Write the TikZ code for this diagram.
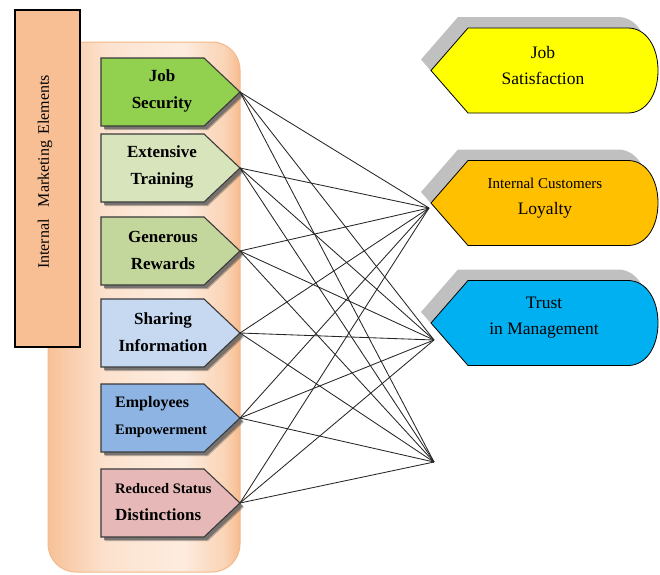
\documentclass[tikz,border=0pt]{standalone}
\usepackage{fontspec}
\setmainfont{Liberation Serif}

% palette
\definecolor{panelA}{HTML}{F7C198}
\definecolor{panelB}{HTML}{FCE2CE}
\definecolor{panelC}{HTML}{FDECDF}
\definecolor{panelD}{HTML}{FAD4B6}
\definecolor{panelE}{HTML}{F6BC8F}
\definecolor{panelEdge}{HTML}{F5B889}
\definecolor{headFill}{HTML}{F9BF94}
\definecolor{cJobSec}{HTML}{92D050}
\definecolor{cTrain}{HTML}{D8E4BC}
\definecolor{cReward}{HTML}{C3D69B}
\definecolor{cShare}{HTML}{C6D9F1}
\definecolor{cEmpow}{HTML}{8DB4E2}
\definecolor{cStatus}{HTML}{E6B9B8}
\definecolor{cSatis}{HTML}{FFFF00}
\definecolor{cLoyal}{HTML}{FFC000}
\definecolor{cTrust}{HTML}{00B0F0}
\definecolor{outShadow}{HTML}{C0C0C0}
\definecolor{elBorder}{HTML}{3A3A3A}

% light-centred horizontal gradient of the panel
\pgfdeclarehorizontalshading{panelshade}{100bp}{
  color(0bp)=(panelA); color(25bp)=(panelA); color(40bp)=(panelB);
  color(60bp)=(panelC); color(71bp)=(panelD); color(75bp)=(panelE);
  color(100bp)=(panelE)}

\tikzset{
  % pentagon arrow for an internal marketing element; (-tip) marks its point
  pics/element/.style={code={
    \fill[black, opacity=0.25] (4,4) -- (107,4) -- (143,38) -- (107,72) -- (4,72) -- cycle;
    \fill[black!60, opacity=0.8] (3,3) -- (106,3) -- (142,37) -- (106,71) -- (3,71) -- cycle;
    \draw[elBorder, line width=1.1pt, fill=#1, line join=miter]
      (0,0) -- (103,0) -- (139,34) -- (103,68) -- (0,68) -- cycle;
    \coordinate (-tip) at (139,34);
  }},
  % outcome shape pointing left with a rounded right end
  pics/outcome/.style={code={
    \fill[outShadow] (-123,-11) -- (-86,-53.5) -- (74,-53.5)
      .. controls (92,-53.5) and (104,-35) .. (104,-11)
      .. controls (104,13) and (92,31.5) .. (74,31.5) -- (-86,31.5) -- cycle;
    \draw[black, line width=0.8pt, fill=#1]
      (-113,0) -- (-76,-42.5) -- (84,-42.5)
      .. controls (102,-42.5) and (114,-24) .. (114,0)
      .. controls (114,24) and (102,42.5) .. (84,42.5) -- (-76,42.5) -- cycle;
  }},
  eltext/.style={align=center, font=\bfseries\fontsize{17}{27}\selectfont, inner sep=0pt},
  elleft/.style={align=left, font=\bfseries\fontsize{17}{27}\selectfont, inner sep=0pt},
  outtext/.style={align=center, font=\fontsize{17.5}{26}\selectfont, inner sep=0pt},
  link/.style={black!85, line width=0.85pt},
}

\begin{document}
\begin{tikzpicture}[x=1pt,y=-1pt]
\useasboundingbox (0,0) rectangle (660,574);

% shaded panel behind the elements
\shade[rounded corners=28pt, shading=panelshade] (48,42) rectangle (240,572);
\draw[panelEdge, line width=1pt, rounded corners=28pt] (48,42) rectangle (240,572);

% vertical heading
\node[draw=black, line width=1.2pt, fill=headFill, minimum width=65pt, minimum height=337pt,
      inner sep=0pt] (head) at (47.5,178.5) {};
\node[rotate=90, font=\fontsize{16}{18}\selectfont, inner sep=0pt] (headtext) at (45,172)
  {Internal\hspace{12pt}Marketing\hspace{2pt} Elements};

% internal marketing elements
\pic (e1) at (101,58)  {element=cJobSec};
\pic (e2) at (101,134) {element=cTrain};
\pic (e3) at (101,217) {element=cReward};
\pic (e4) at (101,299) {element=cShare};
\pic (e5) at (101,384) {element=cEmpow};
\pic (e6) at (101,469) {element=cStatus};

\node[eltext] (jobsec) at (162,91) {Job\\Security};
\node[eltext] (train)  at (162,167) {Extensive\\Training};
\node[eltext] (reward) at (163,250) {Generous\\Rewards};
\node[eltext] (share)  at (163,332) {Sharing\\Information};
\node[elleft, anchor=west] (empow) at (115,417)
  {{\fontsize{16}{27}\selectfont Employees}\\{\fontsize{14.5}{27}\selectfont Empowerment}};
\node[elleft, anchor=west] (status) at (115,502)
  {{\fontsize{14.5}{27}\selectfont Reduced Status}\\Distinctions};

% outcomes
\pic (o1) at (544,70.5) {outcome=cSatis};
\pic (o2) at (544,203)  {outcome=cLoyal};
\pic (o3) at (544,323)  {outcome=cTrust};

\node[outtext] (satis) at (543,66) {Job\\Satisfaction};
\node[outtext] (loyal) at (545,198) {{\fontsize{15}{26}\selectfont Internal Customers}\\Loyalty};
\node[outtext] (trust) at (544,318) {Trust\\in Management};

% convergence points of the links
\coordinate (c1) at (429,208);
\coordinate (c2) at (434,340);
\coordinate (c3) at (434,462);

\foreach \e in {e1,e2,e3,e4,e5,e6}{
  \foreach \c in {c1,c2,c3}{
    \draw[link] (\e-tip) -- (\c);
  }
}
\end{tikzpicture}
\end{document}
